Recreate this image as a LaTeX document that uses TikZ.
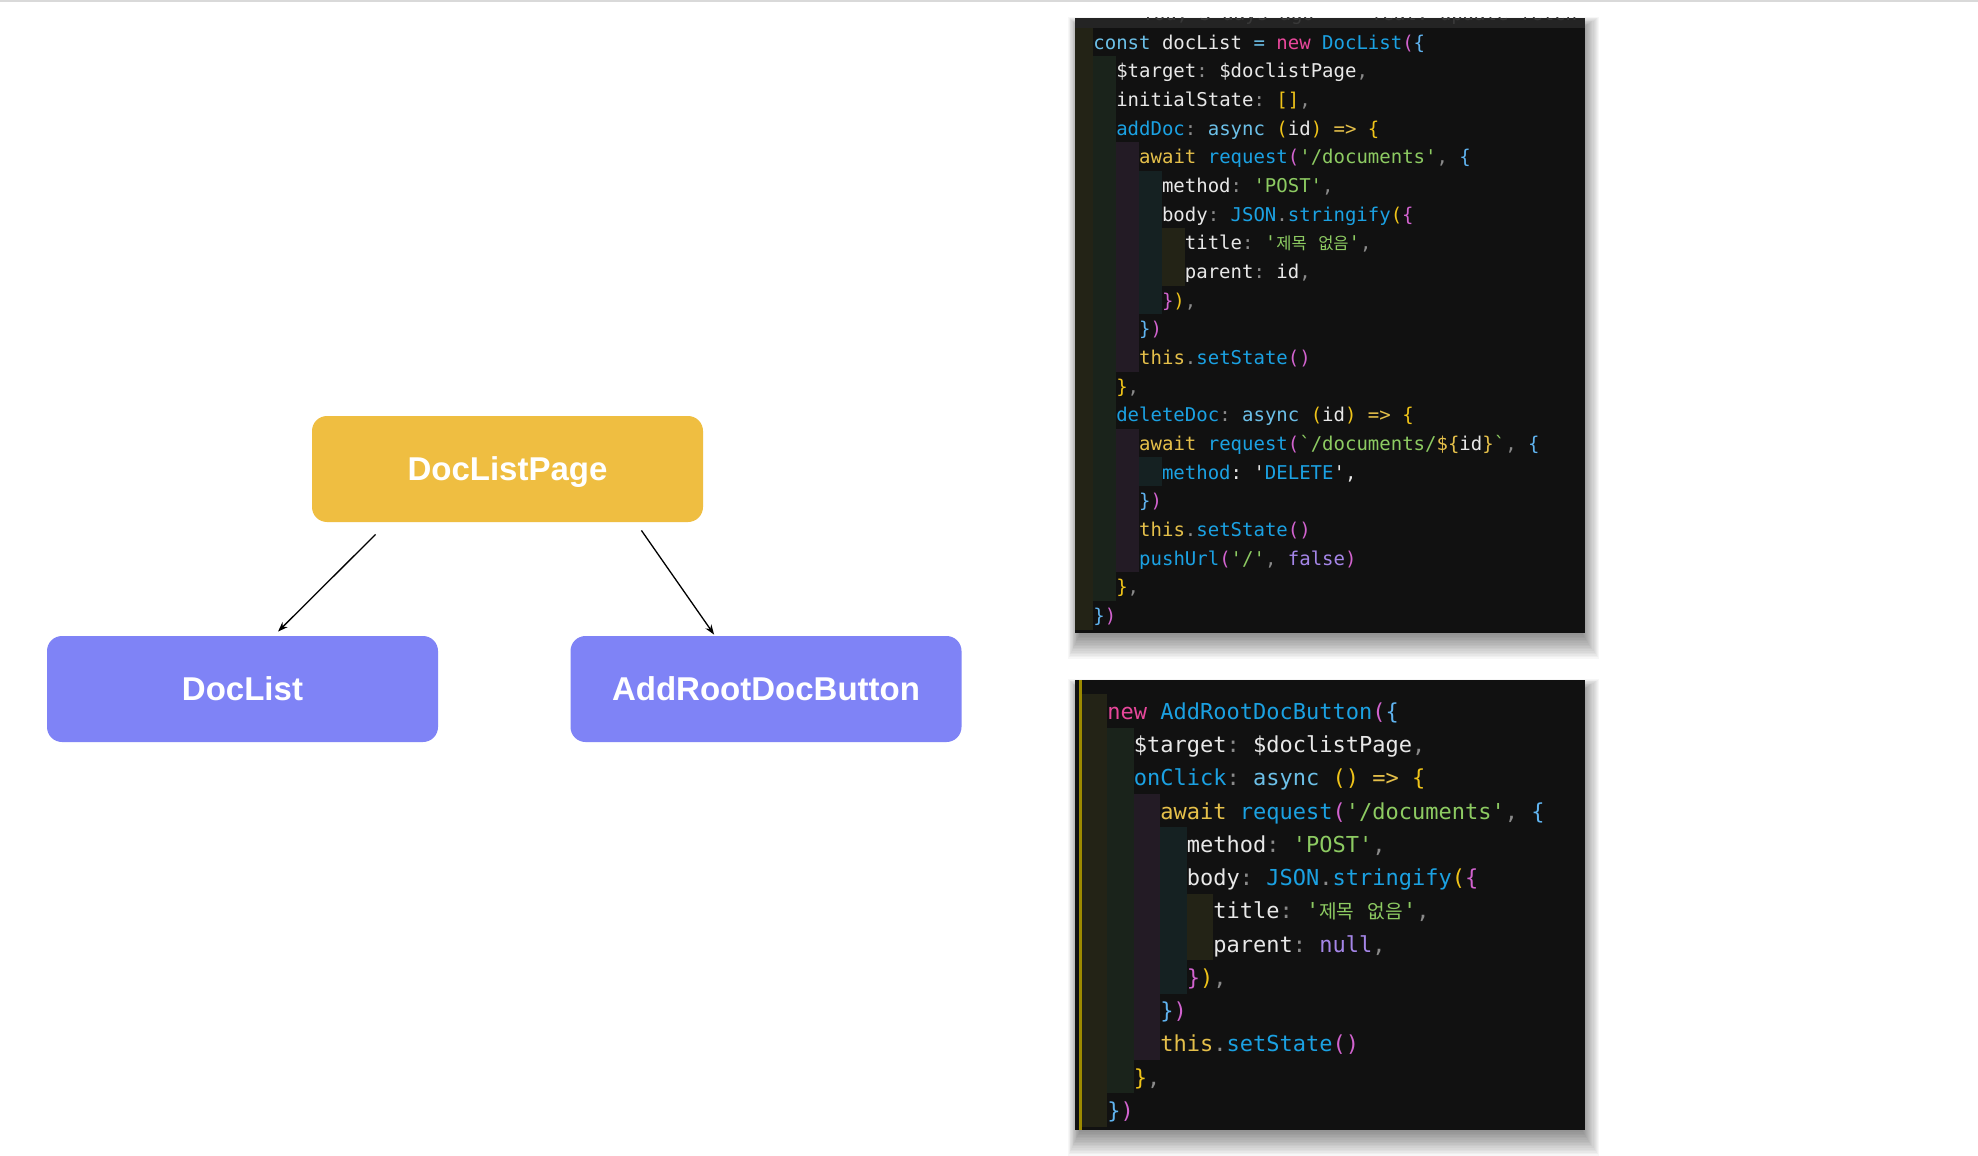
\documentclass[tikz,border=0pt]{standalone}
\usepackage{fontspec}
\usetikzlibrary{arrows.meta,calc}
\setmonofont{DejaVu Sans Mono}
\newfontfamily\krfont{Noto Sans CJK KR}[Scale=0.87]
\newfontfamily\boxfont{Liberation Sans}
\definecolor{kw}{HTML}{6CC0E8}
\definecolor{pk}{HTML}{E8479B}
\definecolor{fn}{HTML}{1BA1E2}
\definecolor{wh}{HTML}{E8E8E8}
\definecolor{st}{HTML}{8DCB62}
\definecolor{yl}{HTML}{E5C04A}
\definecolor{bY}{HTML}{F0C419}
\definecolor{bP}{HTML}{D263CF}
\definecolor{bB}{HTML}{60B4F0}
\definecolor{pu}{HTML}{A586E8}
\definecolor{gr}{HTML}{8A8A8A}
\definecolor{panelbg}{HTML}{111111}
\definecolor{stripbg}{HTML}{242424}
\definecolor{bandO}{HTML}{232316}
\definecolor{bandG}{HTML}{1A231B}
\definecolor{bandP}{HTML}{231B25}
\definecolor{bandT}{HTML}{152122}
\definecolor{guide}{HTML}{9C8A00}
\definecolor{gold}{HTML}{EFBE41}
\definecolor{violet}{HTML}{7F83F6}
\newcommand\cl[2]{\textcolor{#1}{#2}}
\newcommand\kr[1]{{\krfont #1}}
\tikzset{
  box/.style={rounded corners=7.5pt, minimum width=195.5pt, minimum height=53pt,
    text=white, inner sep=0, text height=11.8pt, text depth=0pt,
    font=\boxfont\bfseries\fontsize{16.5}{20}\selectfont},
  arr/.style={-{Stealth[length=5pt,width=3.6pt]}, line width=0.65pt, black},
  codeA/.style={anchor=base west, inner sep=0, font=\ttfamily\fontsize{9.5}{11}\selectfont},
  codeB/.style={anchor=base west, inner sep=0, font=\ttfamily\fontsize{11}{13}\selectfont},
}
\begin{document}
\begin{tikzpicture}[x=0.5pt,y=-0.5pt]
\useasboundingbox (0,0) rectangle (1978,1156);
\fill[white] (0,0) rectangle (1978,1156);
\fill[gray!30] (0,0) rectangle (1978,2.5);

% ---------- diagram ----------
\node[box, fill=gold] (p) at (507.5,469) {DocListPage};
\node[box, fill=violet] (dl) at (242.5,689) {DocList};
\node[box, fill=violet] (ar) at (766,689) {AddRootDocButton};
\draw[arr] ($(p.south west)+(64,12)$) -- ($(dl.north)+(35.5,-4)$);
\draw[arr] ($(p.south east)+(-62,8)$) -- ($(ar.north west)+(144,-1)$);

% ---------- shadows ----------
\foreach \i in {1,...,20}{
  \pgfmathsetmacro\t{\i/20}
  \fill[black,opacity=0.03] (1083-15*\t,32-15*\t) rectangle (1577+22*\t,627+32*\t);
  \fill[black,opacity=0.03] (1083-15*\t,694-15*\t) rectangle (1577+22*\t,1124+32*\t);
}

% ---------- panel 1 ----------
\fill[panelbg] (1075,18) rectangle (1585,633);
\fill[bandO] (1075,28) rectangle (1093,630);
\fill[bandG] (1093,56.3) rectangle (1116,600.7);
\fill[bandP] (1116,142.3) rectangle (1139,371.5);
\fill[bandP] (1116,428.8) rectangle (1139,572.0);
\fill[bandT] (1139,171) rectangle (1162,314.2);
\fill[bandT] (1139,457.4) rectangle (1162,486.1);
\fill[bandO] (1162,228.2) rectangle (1185,285.5);
\fill[stripbg] (1075,18) rectangle (1585,28);
\begin{scope}
\clip (1075,18) rectangle (1585,28);
\node[codeA, text=gray!45!black] (strip) at (1142,20.6) {You, 3 days ago~~~\cl{orange!60!black}{•}~feat: update fetch};
\end{scope}

\node[codeA] (a1) at (1093.0,49.3) {\cl{kw}{const} \cl{wh}{docList} \cl{kw}{=} \cl{pk}{new} \cl{fn}{DocList}\cl{bP}{(}\cl{bB}{\{}};
\node[codeA] (a2) at (1115.9,77.95) {\cl{wh}{\$target}\cl{gr}{:} \cl{wh}{\$doclistPage}\cl{gr}{,}};
\node[codeA] (a3) at (1115.9,106.6) {\cl{wh}{initialState}\cl{gr}{:} \cl{bY}{[]}\cl{gr}{,}};
\node[codeA] (a4) at (1115.9,135.25) {\cl{fn}{addDoc}\cl{gr}{:} \cl{kw}{async} \cl{bY}{(}\cl{wh}{id}\cl{bY}{)} \cl{yl}{=>} \cl{bY}{\{}};
\node[codeA] (a5) at (1138.8,163.9) {\cl{yl}{await} \cl{fn}{request}\cl{bP}{(}\cl{st}{'/documents'}\cl{gr}{,} \cl{bB}{\{}};
\node[codeA] (a6) at (1161.6,192.55) {\cl{wh}{method}\cl{gr}{:} \cl{st}{'POST'}\cl{gr}{,}};
\node[codeA] (a7) at (1161.6,221.2) {\cl{wh}{body}\cl{gr}{:} \cl{fn}{JSON}\cl{gr}{.}\cl{fn}{stringify}\cl{bY}{(}\cl{bP}{\{}};
\node[codeA] (a8) at (1184.5,249.85) {\cl{wh}{title}\cl{gr}{:} \cl{st}{'\kr{제목} \kr{없음}'}\cl{gr}{,}};
\node[codeA] (a9) at (1184.5,278.5) {\cl{wh}{parent}\cl{gr}{:} \cl{wh}{id}\cl{gr}{,}};
\node[codeA] (a10) at (1161.6,307.15) {\cl{bP}{\}}\cl{bY}{)}\cl{gr}{,}};
\node[codeA] (a11) at (1138.8,335.8) {\cl{bB}{\}}\cl{bP}{)}};
\node[codeA] (a12) at (1138.8,364.45) {\cl{yl}{this}\cl{gr}{.}\cl{fn}{setState}\cl{bP}{()}};
\node[codeA] (a13) at (1115.9,393.1) {\cl{bY}{\}}\cl{gr}{,}};
\node[codeA] (a14) at (1115.9,421.75) {\cl{fn}{deleteDoc}\cl{gr}{:} \cl{kw}{async} \cl{bY}{(}\cl{wh}{id}\cl{bY}{)} \cl{yl}{=>} \cl{bY}{\{}};
\node[codeA] (a15) at (1138.8,450.4) {\cl{yl}{await} \cl{fn}{request}\cl{bP}{(}\cl{st}{`/documents/}\cl{yl}{\$\{}\cl{wh}{id}\cl{yl}{\}}\cl{st}{`}\cl{gr}{,} \cl{bB}{\{}};
\node[codeA] (a16) at (1161.6,479.05) {\cl{fn}{method}\cl{wh}{: '}\cl{fn}{DELETE}\cl{wh}{',}};
\node[codeA] (a17) at (1138.8,507.7) {\cl{bB}{\}}\cl{bP}{)}};
\node[codeA] (a18) at (1138.8,536.35) {\cl{yl}{this}\cl{gr}{.}\cl{fn}{setState}\cl{bP}{()}};
\node[codeA] (a19) at (1138.8,565.0) {\cl{fn}{pushUrl}\cl{bP}{(}\cl{st}{'/'}\cl{gr}{,} \cl{pu}{false}\cl{bP}{)}};
\node[codeA] (a20) at (1115.9,593.65) {\cl{bY}{\}}\cl{gr}{,}};
\node[codeA] (a21) at (1093.0,622.3) {\cl{bB}{\}}\cl{bP}{)}};

% ---------- panel 2 ----------
\fill[panelbg] (1075,680) rectangle (1585,1130);
\fill[guide] (1079,680) rectangle (1081.5,1130);
\fill[bandO] (1082,694.4) rectangle (1107,1126.6);
\fill[bandG] (1107,727.6) rectangle (1133.5,1093.4);
\fill[bandP] (1133.5,794.1) rectangle (1160,1060.1);
\fill[bandT] (1160,827.4) rectangle (1186.5,993.6);
\fill[bandO] (1186.5,893.9) rectangle (1213,960.4);

\node[codeB] (b1) at (1107,719.3) {\cl{pk}{new} \cl{fn}{AddRootDocButton}\cl{bP}{(}\cl{bB}{\{}};
\node[codeB] (b2) at (1133.5,752.55) {\cl{wh}{\$target}\cl{gr}{:} \cl{wh}{\$doclistPage}\cl{gr}{,}};
\node[codeB] (b3) at (1133.5,785.8) {\cl{fn}{onClick}\cl{gr}{:} \cl{kw}{async} \cl{bY}{()} \cl{yl}{=>} \cl{bY}{\{}};
\node[codeB] (b4) at (1160,819.05) {\cl{yl}{await} \cl{fn}{request}\cl{bP}{(}\cl{st}{'/documents'}\cl{gr}{,} \cl{bB}{\{}};
\node[codeB] (b5) at (1186.5,852.3) {\cl{wh}{method}\cl{gr}{:} \cl{st}{'POST'}\cl{gr}{,}};
\node[codeB] (b6) at (1186.5,885.55) {\cl{wh}{body}\cl{gr}{:} \cl{fn}{JSON}\cl{gr}{.}\cl{fn}{stringify}\cl{bY}{(}\cl{bP}{\{}};
\node[codeB] (b7) at (1213,918.8) {\cl{wh}{title}\cl{gr}{:} \cl{st}{'\kr{제목} \kr{없음}'}\cl{gr}{,}};
\node[codeB] (b8) at (1213,952.05) {\cl{wh}{parent}\cl{gr}{:} \cl{pu}{null}\cl{gr}{,}};
\node[codeB] (b9) at (1186.5,985.3) {\cl{bP}{\}}\cl{bY}{)}\cl{gr}{,}};
\node[codeB] (b10) at (1160,1018.55) {\cl{bB}{\}}\cl{bP}{)}};
\node[codeB] (b11) at (1160,1051.8) {\cl{yl}{this}\cl{gr}{.}\cl{fn}{setState}\cl{bP}{()}};
\node[codeB] (b12) at (1133.5,1085.05) {\cl{bY}{\}}\cl{gr}{,}};
\node[codeB] (b13) at (1107,1118.3) {\cl{bB}{\}}\cl{bP}{)}};
\end{tikzpicture}
\end{document}
